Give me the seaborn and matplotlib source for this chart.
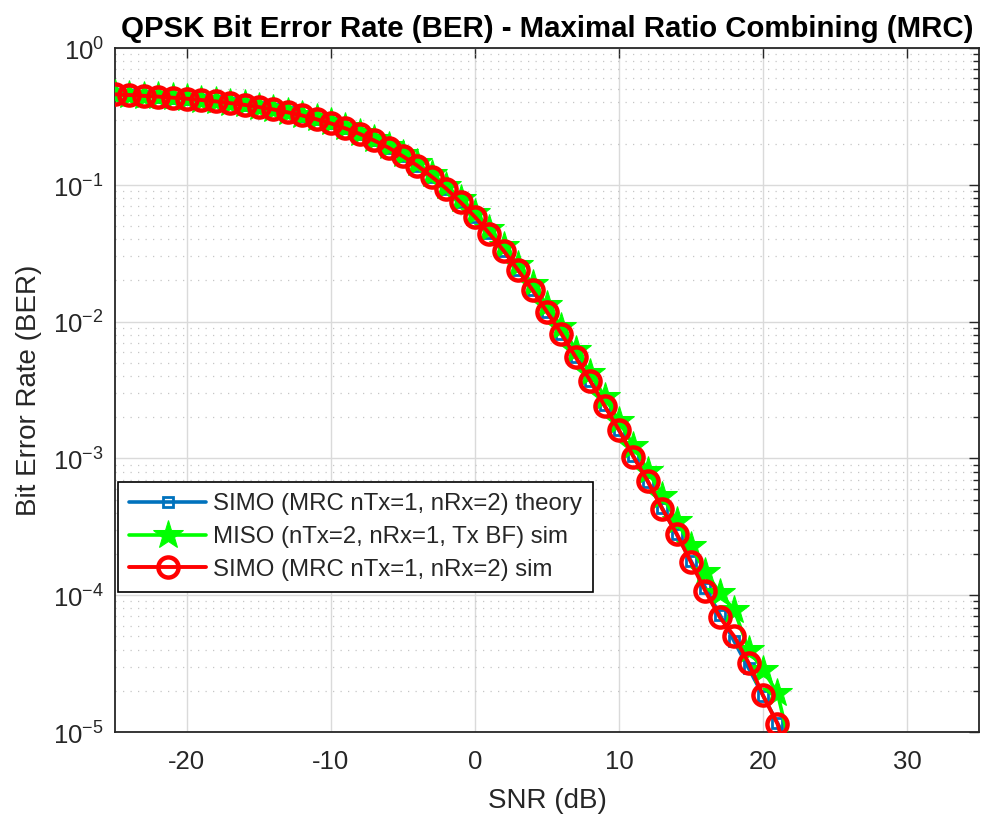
import numpy as np
import pandas as pd
import matplotlib
matplotlib.use('Agg')
import matplotlib.pyplot as plt
import seaborn as sns
from matplotlib.ticker import LogLocator, NullFormatter, FixedLocator, FixedFormatter

# SNR akse (dB) og BER-værdier
snr_db = list(range(-25, 23))

ber_theory = [0.4579, 0.4528, 0.4471, 0.4407, 0.4336, 0.4256, 0.4167, 0.4068,
              0.3958, 0.3836, 0.3700, 0.3551, 0.3388, 0.3209, 0.3015, 0.2807,
              0.2586, 0.2352, 0.2111, 0.1864, 0.1618, 0.1378, 0.1149, 0.09367,
              0.07460, 0.05806, 0.04411, 0.03275, 0.02379, 0.01693, 0.01183,
              0.008129, 0.005506, 0.003683, 0.002438, 0.001599, 0.001041,
              6.740e-4, 4.341e-4, 2.784e-4, 1.780e-4, 1.135e-4, 7.223e-5,
              4.589e-5, 2.918e-5, 1.844e-5, 1.167e-5, 7.387e-6]

ber_miso_sim = [0.4590, 0.4540, 0.4484, 0.4421, 0.4352, 0.4274, 0.4187, 0.4090,
                0.3983, 0.3863, 0.3731, 0.3585, 0.3424, 0.3250, 0.3060, 0.2855,
                0.2637, 0.2406, 0.2167, 0.1922, 0.1676, 0.1434, 0.1203, 0.09860,
                0.07900, 0.06200, 0.04750, 0.03560, 0.02600, 0.01870, 0.01320,
                0.009150, 0.006250, 0.004220, 0.002820, 0.001870, 0.001240,
                8.15e-4, 5.35e-4, 3.50e-4, 2.28e-4, 1.48e-4, 1.04e-4,
                7.8e-5, 4.0e-5, 2.85e-5, 1.93e-5, 7.0e-6]

ber_simo_sim = [0.4582, 0.4531, 0.4468, 0.4410, 0.4333, 0.4259, 0.4164, 0.4071,
                0.3955, 0.3839, 0.3697, 0.3554, 0.3385, 0.3212, 0.3012, 0.2810,
                0.2583, 0.2355, 0.2108, 0.1867, 0.1615, 0.1381, 0.1146, 0.09392,
                0.07441, 0.05823, 0.04398, 0.03289, 0.02371, 0.01701, 0.01176,
                0.008170, 0.005478, 0.003705, 0.002421, 0.001612, 0.001030,
                6.81e-4, 4.28e-4, 2.82e-4, 1.74e-4, 1.07e-4, 6.9e-5,
                5.0e-5, 3.2e-5, 1.85e-5, 1.15e-5, 5.0e-6]

labels = ['SIMO (MRC nTx=1, nRx=2) theory',
          'MISO (nTx=2, nRx=1, Tx BF) sim',
          'SIMO (MRC nTx=1, nRx=2) sim']

x_ticks = [-20, -10, 0, 10, 20, 30]
x_ticklabels = ['-20', '-10', '0', '10', '20', '30']
y_ticks = [1e-5, 1e-4, 1e-3, 1e-2, 1e-1, 1e0]
y_ticklabels = ['$10^{\\mathsf{-5}}$', '$10^{\\mathsf{-4}}$', '$10^{\\mathsf{-3}}$',
                '$10^{\\mathsf{-2}}$', '$10^{\\mathsf{-1}}$', '$10^{\\mathsf{0}}$']

sns.set_style('whitegrid')
plt.rcParams['font.family'] = ['Liberation Sans', 'DejaVu Sans']
plt.rcParams['mathtext.fontset'] = 'custom'
plt.rcParams['mathtext.rm'] = 'Liberation Sans'
plt.rcParams['mathtext.sf'] = 'Liberation Sans'
plt.rcParams['axes.unicode_minus'] = False

fig = plt.figure(figsize=(9.82, 8.23), dpi=100)
ax = fig.add_axes([0.117, 0.1106, 0.880, 0.8311])

txt_col = '#262626'

sns.lineplot(x=snr_db, y=ber_theory, ax=ax, color='#0072BD', linewidth=2.6,
             marker='s', markersize=7, markerfacecolor='none',
             markeredgecolor='#0072BD', markeredgewidth=2.0, label=labels[0], zorder=3)
sns.lineplot(x=snr_db, y=ber_miso_sim, ax=ax, color='#00FF00', linewidth=2.6,
             marker='*', markersize=22, markeredgecolor='#00FF00',
             label=labels[1], zorder=4)
sns.lineplot(x=snr_db, y=ber_simo_sim, ax=ax, color='#FF0000', linewidth=2.8,
             marker='o', markersize=14.5, markerfacecolor='none',
             markeredgecolor='#FF0000', markeredgewidth=3.2, label=labels[2], zorder=5)

ax.set_yscale('log')
ax.set_xlim(-25, 35)
ax.set_ylim(1e-5, 1)
ax.xaxis.set_major_locator(FixedLocator(x_ticks))
ax.xaxis.set_major_formatter(FixedFormatter(x_ticklabels))
ax.yaxis.set_major_locator(FixedLocator(y_ticks))
ax.yaxis.set_major_formatter(FixedFormatter(y_ticklabels))
ax.yaxis.set_minor_locator(LogLocator(base=10, subs=np.arange(2, 10), numticks=20))
ax.yaxis.set_minor_formatter(NullFormatter())

# MATLAB-lignende gitter
ax.grid(True, which='major', color='#dadada', linestyle='-', linewidth=1.0)
ax.grid(True, which='minor', axis='y', color='#c6c6c6', linestyle=(0, (1, 5)), linewidth=0.9)
ax.set_axisbelow(True)

ax.tick_params(axis='both', which='both', direction='in', top=True, right=True,
               colors=txt_col, labelsize=18.5, width=1.0)
ax.tick_params(axis='both', which='major', length=7)
ax.tick_params(axis='x', which='major', pad=13)
ax.tick_params(axis='y', which='major', pad=8)
ax.tick_params(axis='y', which='minor', length=4)
for s in ax.spines.values():
    s.set_color(txt_col)
    s.set_linewidth(1.3)

ax.set_title('QPSK Bit Error Rate (BER) - Maximal Ratio Combining (MRC)',
             fontsize=21.2, fontweight='bold', color='black', pad=8)
ax.set_xlabel('SNR (dB)', fontsize=20, color=txt_col, labelpad=10)
ax.set_ylabel('Bit Error Rate (BER)', fontsize=20, color=txt_col, labelpad=8)

leg = ax.legend(loc='lower left', bbox_to_anchor=(0.0, 0.2), fontsize=17.3,
                frameon=True, fancybox=False, edgecolor='black', framealpha=1,
                handlelength=3.2, borderpad=0.45, labelspacing=0.45, handletextpad=0.3,
                borderaxespad=0.15)
leg.get_frame().set_linewidth(1.2)

plt.savefig('out.png', dpi=100)
